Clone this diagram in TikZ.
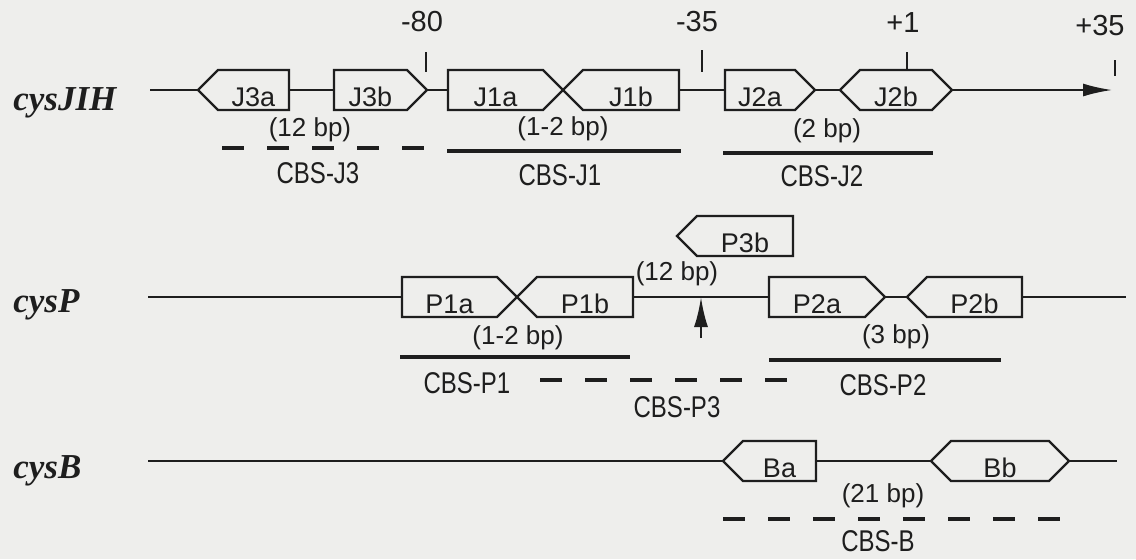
\documentclass[tikz,border=0pt]{standalone}
\usepackage{fontspec}
\setmainfont{Liberation Sans}
\newfontfamily\genefont{Liberation Serif}
\newfontfamily\cbsfont[FakeStretch=0.8]{Liberation Sans}
\usepackage{tikz}
\usetikzlibrary{arrows.meta,shapes.symbols}
\definecolor{ScanInk}{HTML}{1E1E1E}
\definecolor{PaperTone}{HTML}{EEEEEC}
\tikzset{
  figure/.style={x=0.5pt,y=-0.5pt,text=ScanInk,draw=ScanInk},
  site/.style={shape=signal,signal pointer angle=90,draw=ScanInk,line width=1.2pt,
    minimum height=20pt,inner sep=0pt,outer sep=0pt,align=center,
    text height=16pt,text depth=0pt,font=\fontsize{13.5}{13.5}\selectfont},
  gene/.style={anchor=base west,inner sep=0pt,font=\genefont\bfseries\itshape\fontsize{17.5}{17.5}\selectfont},
  gap/.style={inner sep=0pt,font=\fontsize{13}{13}\selectfont},
  cbsname/.style={inner sep=0pt,font=\cbsfont\fontsize{15}{15}\selectfont},
  poslabel/.style={inner sep=0pt,font=\fontsize{14.5}{14.5}\selectfont},
  dna/.style={line width=1pt,draw=ScanInk},
  tickline/.style={line width=1.4pt,draw=ScanInk},
  cbssolid/.style={line width=2.2pt,draw=ScanInk},
  cbsdashed/.style={line width=2.2pt,draw=ScanInk,dash pattern=on 11pt off 11.5pt},
}

\begin{document}
\begin{tikzpicture}[figure]
  \fill[PaperTone] (0,0) rectangle (1136,559);
  \useasboundingbox (0,0) rectangle (1136,559);

  % cysJIH
  \node[gene] (nameJ) at (13,110) {cysJIH};
  \node[site,signal to=west,text width=35.5pt] (J3a) at (253.5,90) {J3a};
  \node[site,signal to=east,text width=36.5pt] (J3b) at (370.5,90) {J3b};
  \node[site,signal to=east,text width=47.5pt] (J1a) at (495.5,90) {J1a};
  \node[site,signal to=west,text width=48pt] (J1b) at (631,90) {J1b};
  \node[site,signal to=east,text width=35pt] (J2a) at (760,90) {J2a};
  \node[site,signal to=west and east,text width=36pt] (J2b) at (896,90) {J2b};
  \coordinate (Jstart) at (150,90);
  \coordinate (Jend) at (1112,90);
  \draw[dna] (Jstart) -- (J3a.west);
  \draw[dna] (J3a.east) -- (J3b.west);
  \draw[dna] (J3b.east) -- (J1a.west);
  \draw[dna] (J1b.east) -- (J2a.west);
  \draw[dna] (J2a.east) -- (J2b.west);
  \draw[dna,-{Latex[length=14.5pt,width=6.5pt]}] (J2b.east) -- (Jend);

  \node[poslabel] (m80) at (422,22) {-80};
  \node[poslabel] (m35) at (697,22) {-35};
  \node[poslabel] (p1) at (903,23) {+1};
  \node[poslabel] (p35) at (1100,26) {+35};
  \draw[tickline] (426,52) -- (426,72);
  \draw[tickline] (702,50) -- (702,72);
  \draw[tickline] (907,52) -- (907,70);
  \draw[tickline] (1115,60) -- (1115,76);

  \node[gap] (gJ3) at (310,130) {(12 bp)};
  \node[gap] (gJ1) at (563,129) {(1-2 bp)};
  \node[gap] (gJ2) at (827,131) {(2 bp)};
  \draw[cbsdashed] (222,148) -- (427,148);
  \draw[cbssolid] (447,151) -- (681,151);
  \draw[cbssolid] (723,153) -- (933,153);
  \node[cbsname] (cJ3) at (318,173) {CBS-J3};
  \node[cbsname] (cJ1) at (560,175) {CBS-J1};
  \node[cbsname] (cJ2) at (822,176) {CBS-J2};

  % cysP
  \node[gene] (nameP) at (13,312) {cysP};
  \node[site,signal to=east,text width=47.5pt] (P1a) at (449.5,297) {P1a};
  \node[site,signal to=west,text width=48pt] (P1b) at (585,297) {P1b};
  \node[site,signal to=west,text width=48pt] (P3b) at (745,236) {P3b};
  \node[site,signal to=east,text width=48pt] (P2a) at (817,297) {P2a};
  \node[site,signal to=west,text width=47.5pt] (P2b) at (974.5,297) {P2b};
  \coordinate (Pstart) at (148,297);
  \coordinate (Pend) at (1126,297);
  \coordinate (P3foot) at (701,338);
  \draw[dna] (Pstart) -- (P1a.west);
  \draw[dna] (P1b.east) -- (P2a.west);
  \draw[dna] (P2a.east) -- (P2b.west);
  \draw[dna] (P2b.east) -- (Pend);
  \draw[dna,line width=1.3pt,-{Latex[length=15pt,width=7pt]}] (P3foot) -- (P3foot |- Pstart);

  \node[gap] (gP1) at (518,338) {(1-2 bp)};
  \node[gap] (gP3) at (677,274) {(12 bp)};
  \node[gap] (gP2) at (896,337) {(3 bp)};
  \draw[cbssolid] (400,357) -- (630,357);
  \draw[cbsdashed] (540,380) -- (793,380);
  \draw[cbssolid] (769,360) -- (1001,360);
  \node[cbsname] (cP1) at (467,383) {CBS-P1};
  \node[cbsname] (cP3) at (677,407) {CBS-P3};
  \node[cbsname] (cP2) at (883,385) {CBS-P2};

  % cysB
  \node[gene] (nameB) at (13,478) {cysB};
  \node[site,signal to=west,text width=36.5pt] (Ba) at (779.5,461) {Ba};
  \node[site,signal to=west and east,text width=49pt] (Bb) at (1000,461) {Bb};
  \coordinate (Bstart) at (148,461);
  \coordinate (Bend) at (1117,461);
  \draw[dna] (Bstart) -- (Ba.west);
  \draw[dna] (Ba.east) -- (Bb.west);
  \draw[dna] (Bb.east) -- (Bend);

  \node[gap] (gB) at (883,496) {(21 bp)};
  \draw[cbsdashed] (723,519) -- (1069,519);
  \node[cbsname] (cB) at (878,541) {CBS-B};
\end{tikzpicture}
\end{document}
